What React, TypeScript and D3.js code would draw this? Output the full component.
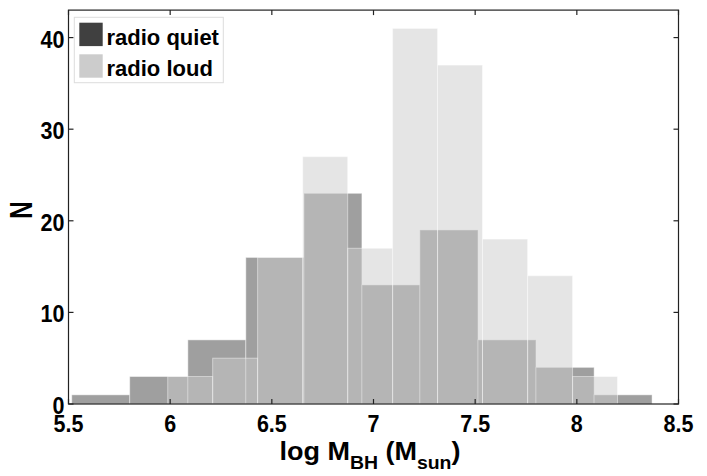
import React from "react";
import * as d3 from "d3";

const quietEdges = [5.516, 5.801, 6.087, 6.372, 6.658, 6.943, 7.228, 7.514, 7.799, 8.085, 8.37];
const quietCounts = [1, 3, 7, 16, 23, 13, 19, 7, 4, 1];
const loudEdges = [5.988, 6.209, 6.43, 6.652, 6.873, 7.094, 7.315, 7.536, 7.758, 7.979, 8.2];
const loudCounts = [3, 5, 16, 27, 17, 41, 37, 18, 14, 3];
const xTicks = [5.5, 6, 6.5, 7, 7.5, 8, 8.5];
const yTicks = [0, 10, 20, 30, 40];
const seriesNames = ["radio quiet", "radio loud"];

const W = 707;
const H = 476;
const m = { left: 68.5, right: 678.5, top: 10.1, bottom: 404 };
const FONT = "'Liberation Sans', Arial, Helvetica, sans-serif";

export default function App() {
  const x = d3.scaleLinear().domain([5.5, 8.5]).range([m.left, m.right]);
  const y = d3.scaleLinear().domain([0, 43]).range([m.bottom, m.top]);

  const bars = (edges: number[], counts: number[], fill: string, key: string) =>
    counts.map((c, i) => (
      <rect
        key={key + i}
        x={x(edges[i])}
        y={y(c)}
        width={x(edges[i + 1]) - x(edges[i])}
        height={y(0) - y(c)}
        fill={fill}
        fillOpacity={0.5}
        stroke="#ffffff"
        strokeOpacity={0.45}
        strokeWidth={1}
      />
    ));

  const axisColor = "#222";
  const tickLen = 5;

  return (
    <svg
      width={W}
      height={H}
      style={{ position: "absolute", left: 0, top: 0, background: "#fff" }}
      fontFamily={FONT}
    >
      <rect x={0} y={0} width={W} height={H} fill="#fff" />
      <g>{bars(quietEdges, quietCounts, "#404040", "q")}</g>
      <g>{bars(loudEdges, loudCounts, "#cccccc", "l")}</g>

      {/* frame */}
      <rect
        x={m.left}
        y={m.top}
        width={m.right - m.left}
        height={m.bottom - m.top}
        fill="none"
        stroke={axisColor}
        strokeWidth={1.2}
      />
      {xTicks.map((t) => (
        <g key={"xt" + t}>
          <line x1={x(t)} x2={x(t)} y1={m.bottom} y2={m.bottom - tickLen} stroke={axisColor} strokeWidth={1.2} />
          <line x1={x(t)} x2={x(t)} y1={m.top} y2={m.top + tickLen} stroke={axisColor} strokeWidth={1.2} />
          <text
            transform={`translate(${x(t)},432) scale(1,1.08)`}
            textAnchor="middle"
            fontSize={21.5}
            fontWeight="bold"
            fill="#000"
          >
            {t}
          </text>
        </g>
      ))}
      {yTicks.map((t) => (
        <g key={"yt" + t}>
          <line x1={m.left} x2={m.left + tickLen} y1={y(t)} y2={y(t)} stroke={axisColor} strokeWidth={1.2} />
          <line x1={m.right} x2={m.right - tickLen} y1={y(t)} y2={y(t)} stroke={axisColor} strokeWidth={1.2} />
          <text
            transform={`translate(64.5,${y(t) + 10}) scale(1,1.08)`}
            textAnchor="end"
            fontSize={21.5}
            fontWeight="bold"
            fill="#000"
          >
            {t}
          </text>
        </g>
      ))}

      {/* y label */}
      <text
        transform="translate(32.3,210) rotate(-90) scale(1,1.28)"
        textAnchor="middle"
        fontSize={24}
        fontWeight="bold"
        fill="#000"
      >
        N
      </text>

      {/* x label */}
      <g transform="translate(370,460) scale(1.08,1)">
        <text textAnchor="middle" fontSize={25} fontWeight="bold" fill="#000">
          <tspan>log M</tspan>
          <tspan fontSize={18} dy={9}>BH</tspan>
          <tspan dy={-9}> (M</tspan>
          <tspan fontSize={18} dy={9}>sun</tspan>
          <tspan dy={-9}>)</tspan>
        </text>
      </g>

      {/* legend */}
      <g>
        <rect x={74.3} y={17.3} width={149} height={65.4} fill="#fff" stroke="#dddddd" strokeWidth={1} />
        <rect x={79.3} y={22.7} width={23.4} height={23.4} fill="#404040" />
        <rect x={79.3} y={54.3} width={23.4} height={23.4} fill="#cccccc" />
        <text x={106.5} y={44.5} fontSize={22} fontWeight="bold" fill="#000">
          {seriesNames[0]}
        </text>
        <text x={106.5} y={76} fontSize={22} fontWeight="bold" fill="#000">
          {seriesNames[1]}
        </text>
      </g>
    </svg>
  );
}
